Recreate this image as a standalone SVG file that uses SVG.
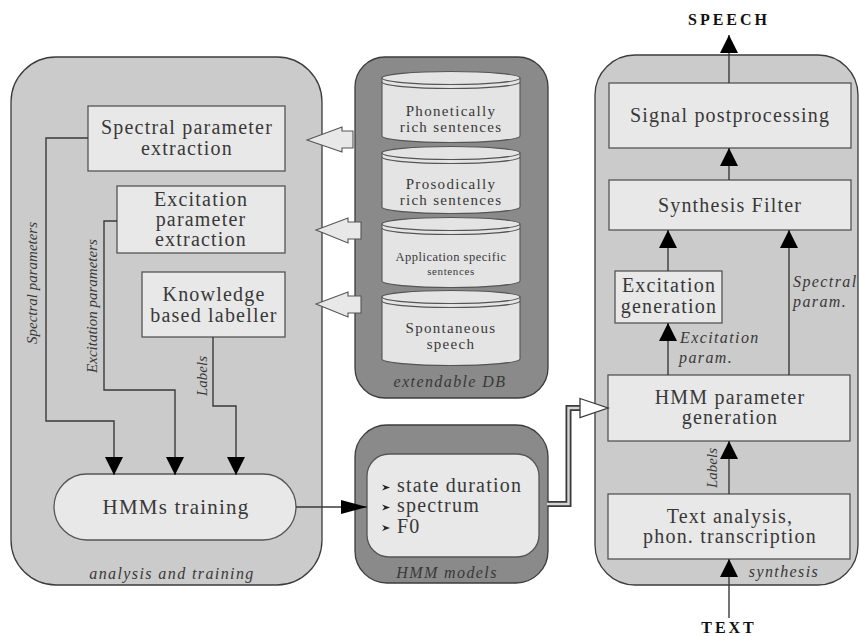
<svg xmlns="http://www.w3.org/2000/svg" width="860" height="636" viewBox="0 0 860 636">
  <style>
    .panel { fill: #cbcbcb; stroke: #3c3c3c; stroke-width: 1.3; }
    .dark { fill: #8a8a8a; stroke: #3c3c3c; stroke-width: 1.3; }
    .box { fill: #e8e8e8; stroke: #555; stroke-width: 1.3; }
    .cyl { fill: #e4e4e4; stroke: #555; stroke-width: 1.1; }
    .rim { fill: none; stroke: #555; stroke-width: 1.1; }
    text { font-family: 'Liberation Serif', 'DejaVu Serif', serif; }
    .t { font-size: 20px; fill: #383838; letter-spacing: 1.2px; text-anchor: middle; }
    .start { text-anchor: start; }
    .s { font-size: 15px; letter-spacing: 1.3px; }
    .it { font-style: italic; font-size: 16px; fill: #383838; letter-spacing: 1.4px; }
    .mid { text-anchor: middle; }
    .rot { font-style: italic; font-size: 15px; fill: #383838; text-anchor: middle; }
    .io { font-weight: bold; font-size: 16px; fill: #111; letter-spacing: 3px; text-anchor: middle; }
    .conn { fill: none; stroke: #3a3a3a; stroke-width: 1.4; }
    .block { fill: #e8e8e8; stroke: #555; stroke-width: 1.1; }
  </style>
  <defs>
    <marker id="tri" viewBox="0 0 18 18" refX="18" refY="9" markerWidth="18" markerHeight="18" markerUnits="userSpaceOnUse" orient="auto">
      <path d="M0,0 L18,9 L0,18 Z" fill="#000"/>
    </marker>
    <marker id="triH" viewBox="0 0 26 14" refX="26" refY="7" markerWidth="26" markerHeight="14" markerUnits="userSpaceOnUse" orient="auto">
      <path d="M0,0 L26,7 L0,14 Z" fill="#000"/>
    </marker>
  </defs>

  <!-- analysis and training panel -->
  <g id="analysis-panel">
    <rect class="panel" x="11" y="57" width="311" height="528" rx="45" ry="45"/>
    <text class="it mid" x="172" y="579">analysis and training</text>
  </g>

  <g id="spectral-extraction">
    <rect class="box" x="88" y="106" width="197" height="65"/>
    <text class="t" x="187" y="134">Spectral parameter</text>
    <text class="t" x="187" y="155">extraction</text>
  </g>

  <g id="excitation-extraction">
    <rect class="box" x="117" y="186" width="168" height="67"/>
    <text class="t" x="201" y="206">Excitation</text>
    <text class="t" x="201" y="226">parameter</text>
    <text class="t" x="201" y="246">extraction</text>
  </g>

  <g id="labeller">
    <rect class="box" x="142" y="272" width="143" height="65"/>
    <text class="t" x="214" y="301">Knowledge</text>
    <text class="t" x="214" y="322">based labeller</text>
  </g>

  <g id="hmm-training">
    <rect class="box" x="54" y="474" width="242" height="66" rx="33" ry="33"/>
    <text class="t" x="176" y="514" style="font-size:21px">HMMs training</text>
  </g>

  <!-- extendable database -->
  <g id="extendable-db">
    <rect class="dark" x="355" y="57" width="193" height="341" rx="30" ry="30"/>
    <text class="it mid" x="450" y="387">extendable DB</text>

    <g id="db-phonetic">
      <path class="cyl" d="M382,78 V136 A69,6.5 0 0 0 520,136 V78 Z"/>
      <ellipse class="cyl" cx="451" cy="78" rx="69" ry="6.5"/>
      <path class="rim" d="M382,82 A69,6.5 0 0 0 520,82"/>
      <text class="t s" x="451" y="116">Phonetically</text>
      <text class="t s" x="451" y="132">rich sentences</text>
    </g>
    <g id="db-prosodic">
      <path class="cyl" d="M382,153 V207 A69,6.5 0 0 0 520,207 V153 Z"/>
      <ellipse class="cyl" cx="451" cy="153" rx="69" ry="6.5"/>
      <path class="rim" d="M382,157 A69,6.5 0 0 0 520,157"/>
      <text class="t s" x="451" y="189">Prosodically</text>
      <text class="t s" x="451" y="205">rich sentences</text>
    </g>
    <g id="db-application">
      <path class="cyl" d="M382,224 V281 A69,6.5 0 0 0 520,281 V224 Z"/>
      <ellipse class="cyl" cx="451" cy="224" rx="69" ry="6.5"/>
      <path class="rim" d="M382,228 A69,6.5 0 0 0 520,228"/>
      <text class="t" x="451" y="261" style="font-size:12.5px;letter-spacing:0.5px">Application specific</text>
      <text class="t" x="451" y="275" style="font-size:11px;letter-spacing:0.6px">sentences</text>
    </g>
    <g id="db-spontaneous">
      <path class="cyl" d="M382,297 V359 A69,6.5 0 0 0 520,359 V297 Z"/>
      <ellipse class="cyl" cx="451" cy="297" rx="69" ry="6.5"/>
      <path class="rim" d="M382,301 A69,6.5 0 0 0 520,301"/>
      <text class="t s" x="451" y="333">Spontaneous</text>
      <text class="t s" x="451" y="349">speech</text>
    </g>
  </g>

  <!-- HMM models -->
  <g id="hmm-models">
    <rect class="dark" x="355" y="425" width="193" height="158" rx="32" ry="32"/>
    <rect class="box" x="367" y="454" width="172" height="103" rx="22" ry="22"/>
    <path d="M382,484.5 L390,487.5 L382,490.5 L384.5,487.5 Z" fill="#222"/>
    <path d="M382,504.5 L390,507.5 L382,510.5 L384.5,507.5 Z" fill="#222"/>
    <path d="M382,525 L390,528 L382,531 L384.5,528 Z" fill="#222"/>
    <text class="t start" x="397" y="492">state duration</text>
    <text class="t start" x="397" y="512">spectrum</text>
    <text class="t start" x="397" y="533">F0</text>
    <text class="it mid" x="447" y="578">HMM models</text>
  </g>

  <!-- synthesis panel -->
  <g id="synthesis-panel">
    <rect class="panel" x="595" y="55" width="263" height="530" rx="40" ry="40"/>
    <text class="it mid" x="784" y="577">synthesis</text>
  </g>

  <g id="signal-postprocessing">
    <rect class="box" x="609" y="83" width="242" height="65"/>
    <text class="t" x="730" y="122">Signal postprocessing</text>
  </g>

  <g id="synthesis-filter">
    <rect class="box" x="609" y="180" width="242" height="50"/>
    <text class="t" x="730" y="212">Synthesis Filter</text>
  </g>

  <g id="excitation-generation">
    <rect class="box" x="615" y="271" width="107" height="52"/>
    <text class="t" x="669" y="292">Excitation</text>
    <text class="t" x="669" y="313">generation</text>
  </g>

  <g id="hmm-parameter-generation">
    <rect class="box" x="608" y="375" width="242" height="66"/>
    <text class="t" x="730" y="404">HMM parameter</text>
    <text class="t" x="730" y="424">generation</text>
  </g>

  <g id="text-analysis">
    <rect class="box" x="608" y="494" width="242" height="65"/>
    <text class="t" x="730" y="523">Text analysis,</text>
    <text class="t" x="730" y="543">phon. transcription</text>
  </g>

  <g id="io-labels">
    <text class="io" x="729" y="25">SPEECH</text>
    <text class="io" x="729" y="633">TEXT</text>
  </g>

  <!-- connectors -->
  <g id="connectors">
    <!-- database feeds into the analysis stage -->
    <polygon class="block" points="307,140 342,127 342,131 353,131 353,148 342,148 342,152"/>
    <polygon class="block" points="316,230 348,218 348,222 361,222 361,239 348,239 348,243"/>
    <polygon class="block" points="316,304 348,292 348,296 361,296 361,313 348,313 348,317"/>

    <!-- parameter streams into HMM training -->
    <path class="conn" d="M88,138 H46 V421 H114 V475" marker-end="url(#tri)"/>
    <path class="conn" d="M117,221 H104 V390 H175 V475" marker-end="url(#tri)"/>
    <path class="conn" d="M213,337 V406 H236 V475" marker-end="url(#tri)"/>
    <text class="rot" x="37" y="283" transform="rotate(-90 37 283)">Spectral parameters</text>
    <text class="rot" x="97" y="306" transform="rotate(-90 97 306)">Excitation parameters</text>
    <text class="rot" x="207" y="376" transform="rotate(-90 207 376)">Labels</text>

    <!-- training output to models -->
    <path class="conn" d="M296,507 H367" marker-end="url(#triH)"/>

    <!-- models to parameter generation (double line) -->
    <path d="M548,504 H568.5 V408 H582" fill="none" stroke="#3a3a3a" stroke-width="6"/>
    <path d="M547,504 H568.5 V408 H583" fill="none" stroke="#d4d4d4" stroke-width="2.4"/>
    <polygon points="580,398.5 608,408 580,417.5" fill="#fff" stroke="#3a3a3a" stroke-width="1.3"/>

    <!-- synthesis chain -->
    <path class="conn" d="M729,618 V559" marker-end="url(#tri)"/>
    <path class="conn" d="M729,494 V441" marker-end="url(#tri)"/>
    <text class="rot" x="717" y="468" transform="rotate(-90 717 468)">Labels</text>
    <path class="conn" d="M668,375 V323" marker-end="url(#tri)"/>
    <text class="it" x="680" y="343">Excitation</text>
    <text class="it" x="679" y="363">param.</text>
    <path class="conn" d="M789,375 V230" marker-end="url(#tri)"/>
    <text class="it" x="793" y="287">Spectral</text>
    <text class="it" x="793" y="307">param.</text>
    <path class="conn" d="M668,271 V230" marker-end="url(#tri)"/>
    <path class="conn" d="M729,180 V148" marker-end="url(#tri)"/>
    <path class="conn" d="M729,83 V35" marker-end="url(#tri)"/>
  </g>
</svg>
